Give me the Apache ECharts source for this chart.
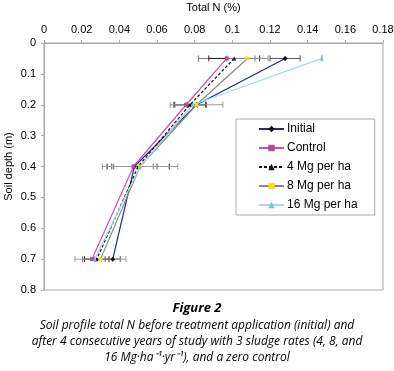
<!DOCTYPE html>
<html>
<head>
<meta charset="utf-8">
<script src="https://cdn.jsdelivr.net/npm/echarts@6/dist/echarts.min.js"></script>
<style>
  html, body { margin: 0; padding: 0; background: #fff; }
  #chart { width: 394px; height: 371px; }
</style>
</head>
<body>
<div id="chart"></div>
<script>
// soil depths (m)
const depths = [0.05, 0.2, 0.4, 0.7];
const xTicks = [0, 0.02, 0.04, 0.06, 0.08, 0.1, 0.12, 0.14, 0.16, 0.18];

const names = ["Initial", "Control", "4 Mg per ha", "8 Mg per ha", "16 Mg per ha"];
// total N (%) at each depth
const initialN = [0.128, 0.081, 0.048, 0.0365];
const controlN = [0.097, 0.0755, 0.0475, 0.0255];
const mg4N = [0.101, 0.0775, 0.050, 0.028];
const mg8N = [0.108, 0.081, 0.051, 0.030];
const mg16N = [0.1475, 0.079, 0.051, 0.027];
// +/- error (half width)
const initialErr = [0.008, 0.005, 0.012, 0.004];
const controlErr = [0.015, 0.006, 0.0105, 0.005];
const mg4Err = [0.0135, 0.0085, 0.0165, 0.0065];
const mg8Err = [0.011, 0.014, 0.020, 0.0135];
const mg16Err = [0, 0, 0, 0];

const values = [initialN, controlN, mg4N, mg8N, mg16N];
const errors = [initialErr, controlErr, mg4Err, mg8Err, mg16Err];

const styles = [
    { line: "#1f2b8c", marker: "#111", symbol: "diamond", size: 5, type: "solid", bar: "#555" },
    { line: "#cc4fa6", marker: "#b14a98", symbol: "rect", size: 4, type: "solid", bar: "#777" },
    { line: "#111", marker: "#111", symbol: "triangle", size: 4, type: [3, 2], bar: "#222" },
    { line: "#8a8a8a", marker: "#f2e21a", symbol: "rect", size: 4, type: "solid", bar: "#999" },
    { line: "#9fdcea", marker: "#6cc8dc", symbol: "triangle", size: 4, type: "solid", bar: "#999" }
];

const chart = echarts.init(document.getElementById("chart"));

const errorSeries = values.map((vals, i) => ({
    type: "custom",
    silent: true,
    z: 1,
    data: depths.map((d, j) => [vals[j] - errors[i][j], vals[j] + errors[i][j], d]),
    renderItem: (params, api) => {
        const lo = api.coord([api.value(0), api.value(2)]);
        const hi = api.coord([api.value(1), api.value(2)]);
        const h = 3;
        const st = { stroke: styles[i].bar, lineWidth: 1 };
        return {
            type: "group",
            children: [
                { type: "line", shape: { x1: lo[0], y1: lo[1], x2: hi[0], y2: hi[1] }, style: st },
                { type: "line", shape: { x1: lo[0], y1: lo[1] - h, x2: lo[0], y2: lo[1] + h }, style: st },
                { type: "line", shape: { x1: hi[0], y1: hi[1] - h, x2: hi[0], y2: hi[1] + h }, style: st }
            ]
        };
    }
}));

const lineSeries = values.map((vals, i) => ({
    name: names[i],
    type: "line",
    z: 3,
    data: depths.map((d, j) => [vals[j], d]),
    symbol: styles[i].symbol,
    symbolSize: styles[i].size,
    showAllSymbol: true,
    lineStyle: { color: styles[i].line, width: 1.2, type: styles[i].type },
    itemStyle: { color: styles[i].marker, borderWidth: 0 }
}));

const captionFont = "italic 12px 'Open Sans', sans-serif";

const option = {
    animation: false,
    grid: {
        left: 44, right: 11, top: 43, bottom: 81,
        outerBoundsMode: "none",
        show: true, borderColor: "#aaa", borderWidth: 1
    },
    xAxis: {
        type: "value",
        position: "top",
        min: 0, max: 0.18, interval: 0.02,
        name: "Total N (%)",
        nameLocation: "middle",
        nameGap: 30,
        nameTextStyle: { fontFamily: "Liberation Sans", fontSize: 11, color: "#000" },
        axisLine: { show: true, lineStyle: { color: "#aaa" } },
        axisTick: { show: true, length: 3, lineStyle: { color: "#aaa" } },
        axisLabel: {
            fontFamily: "Liberation Sans", fontSize: 11, color: "#000", margin: 8,
            formatter: v => String(+v.toFixed(2))
        },
        splitLine: { show: false }
    },
    yAxis: {
        type: "value",
        inverse: true,
        min: 0, max: 0.8, interval: 0.1,
        name: "Soil depth (m)",
        nameLocation: "middle",
        nameGap: 30,
        nameMoveOverlap: false,
        nameTextStyle: { fontFamily: "Liberation Sans", fontSize: 11, color: "#000" },
        axisLine: { show: true, lineStyle: { color: "#aaa" } },
        axisTick: { show: true, length: 3, lineStyle: { color: "#aaa" } },
        axisLabel: {
            fontFamily: "Liberation Sans", fontSize: 11, color: "#000", margin: 8,
            formatter: v => String(+v.toFixed(1))
        },
        splitLine: { show: false }
    },
    legend: {
        orient: "vertical",
        left: 236, top: 119,
        data: names,
        itemWidth: 25, itemHeight: 8,
        itemGap: 7,
        padding: [4, 17, 4, 22],
        borderColor: "#aaa", borderWidth: 1,
        backgroundColor: "#fff",
        textStyle: { fontFamily: "Liberation Sans", fontSize: 12, color: "#000", padding: [0, 0, 0, -2] }
    },
    graphic: [
        { type: "text", left: "center", top: 302,
          style: { text: "Figure 2", font: "bold italic 13px 'Open Sans', sans-serif", fill: "#000" } },
        { type: "text", left: "center", top: 320,
          style: { text: "Soil profile total N before treatment application (initial) and", font: captionFont, fill: "#000" } },
        { type: "text", left: "center", top: 336,
          style: { text: "after 4 consecutive years of study with 3 sludge rates (4, 8, and", font: captionFont, fill: "#000" } },
        { type: "text", left: "center", top: 352,
          style: { text: "16 Mg\u00b7ha\u207b\u00b9\u00b7yr\u207b\u00b9), and a zero control", font: captionFont, fill: "#000" } }
    ],
    series: [...errorSeries, ...lineSeries]
};

chart.setOption(option);
</script>
</body>
</html>
